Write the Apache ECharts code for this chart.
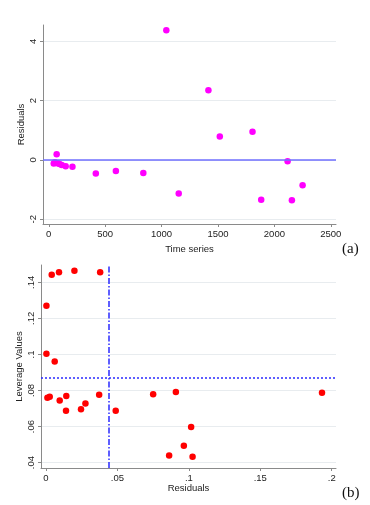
<!DOCTYPE html>
<html><head><meta charset="utf-8">
<script src="https://cdn.jsdelivr.net/npm/echarts@6/dist/echarts.min.js"></script>
<style>html,body{margin:0;padding:0;background:#fff}#c{width:370px;height:505px}</style>
</head><body><div id="c"></div>
<script>
// Panel (a): residuals over time series
const tsX = [1042, 1415, 1516, 1806, 2117, 2250, 1883, 2155, 1152, 838, 595, 417, 210, 150, 115, 95, 80, 70, 62, 55, 44];
const tsResid = [4.37, 2.35, 0.79, 0.95, -0.045, -0.85, -1.34, -1.36, -1.13, -0.44, -0.37, -0.46, -0.23, -0.21, -0.17, -0.14, -0.11, 0.19, -0.1, -0.08, -0.12];
const aXTicks = [0, 500, 1000, 1500, 2000, 2500];
const aYTicks = [-2, 0, 2, 4];
const aRefY = 0;

// Panel (b): leverage vs residuals
const levResid = [0.004, 0.0091, 0.0199, 0.0379, 0.0003, 0.0003, 0.0061, 0.001, 0.0026, 0.0096, 0.0142, 0.014, 0.0245, 0.0276, 0.0372, 0.0488, 0.075, 0.0909, 0.1932, 0.1016, 0.0965, 0.0862, 0.1026];
const levValue = [0.1442, 0.1456, 0.1464, 0.1456, 0.127, 0.1004, 0.0961, 0.0759, 0.0765, 0.0744, 0.077, 0.0687, 0.0696, 0.0728, 0.0776, 0.0687, 0.0779, 0.0792, 0.0787, 0.0598, 0.0494, 0.0439, 0.0433];
const bXTicks = [0, 0.05, 0.1, 0.15, 0.2];
const bYTicks = [0.04, 0.06, 0.08, 0.1, 0.12, 0.14];
const bRefX = 0.0437;
const bRefY = 0.0871;

const font = 'Liberation Sans, Arial, sans-serif';
const txt = '#222';
const stataFmt = v => {
  let s = String(Math.round(v * 1000) / 1000);
  return s.replace(/^0\./, '.').replace(/^-0\./, '-.');
};
function axisCommon(ticks, fmt, isY) {
  return {
    axisLine: {show: true, onZero: false, lineStyle: {color: '#8a8a8a', width: 1}},
    axisTick: {show: true, length: 3, customValues: ticks, lineStyle: {color: '#8a8a8a'}},
    axisLabel: {customValues: ticks, formatter: fmt, color: txt, fontFamily: font, fontSize: 9.5,
      rotate: isY ? 90 : 0, margin: 5},
    splitLine: {show: isY, lineStyle: {color: '#e8ecef', width: 1}},
    nameTextStyle: {color: txt, fontFamily: font, fontSize: 9.5},
    nameLocation: 'middle',
    nameMoveOverlap: false
  };
}
const chart = echarts.init(document.getElementById('c'), null, {renderer: 'canvas'});
chart.setOption({
  animation: false,
  backgroundColor: '#fff',
  grid: [
    {left: 43, right: 34, top: 25, height: 199},
    {left: 41, right: 34, top: 265, height: 203}
  ],
  xAxis: [
    Object.assign(axisCommon(aXTicks, v => String(v), false), {type: 'value', gridIndex: 0, min: -51, max: 2546, name: 'Time series', nameGap: 20}),
    Object.assign(axisCommon(bXTicks, stataFmt, false), {type: 'value', gridIndex: 1, min: -0.0035, max: 0.203, name: 'Residuals', nameGap: 15})
  ],
  yAxis: [
    Object.assign(axisCommon(aYTicks, v => String(v), true), {type: 'value', gridIndex: 0, min: -2.16, max: 4.55, name: 'Residuals', nameGap: 17}),
    Object.assign(axisCommon(bYTicks, stataFmt, true), {type: 'value', gridIndex: 1, min: 0.037, max: 0.1496, name: 'Leverage Values', nameGap: 17})
  ],
  graphic: [
    {type: 'text', left: 342, top: 242, style: {text: '(a)', font: '15px "Liberation Serif", serif', fill: '#111'}},
    {type: 'text', left: 342, top: 486, style: {text: '(b)', font: '15px "Liberation Serif", serif', fill: '#111'}}
  ],
  series: [
    {
      type: 'scatter', xAxisIndex: 0, yAxisIndex: 0,
      data: tsX.map((x, i) => [x, tsResid[i]]),
      symbolSize: 6.5, itemStyle: {color: '#ff00ff', opacity: 1},
      markLine: {silent: true, symbol: 'none', precision: 6, label: {show: false},
        lineStyle: {color: '#6f6fff', width: 1.5, type: 'solid'},
        data: [{yAxis: aRefY}]},
      z: 3
    },
    {
      type: 'scatter', xAxisIndex: 1, yAxisIndex: 1,
      data: levResid.map((x, i) => [x, levValue[i]]),
      symbolSize: 6.5, itemStyle: {color: '#ff0000', opacity: 1},
      markLine: {silent: true, symbol: 'none', precision: 6, label: {show: false},
        data: [
          {xAxis: bRefX, lineStyle: {color: '#2a2aff', width: 1.5, type: [6, 2, 1.5, 2]}},
          {yAxis: bRefY, lineStyle: {color: '#2a2aff', width: 1.5, type: [2, 2]}}
        ]},
      z: 3
    }
  ]
});
</script></body></html>
